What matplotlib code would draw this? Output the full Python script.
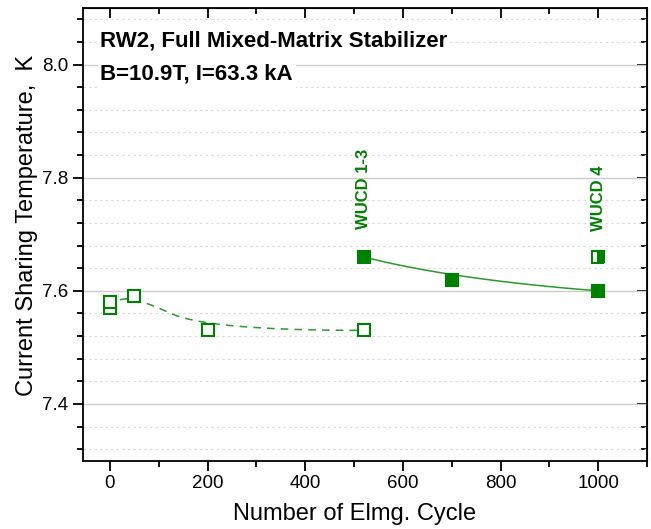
import numpy as np
import matplotlib.pyplot as plt
from matplotlib.ticker import MultipleLocator

plt.rcParams['font.family'] = ['Liberation Sans', 'DejaVu Sans']

# open symbols (dashed B-spline)
open_x = [0, 0, 50, 200, 520]
open_y = [7.57, 7.58, 7.59, 7.53, 7.53]
# filled symbols (solid B-spline)
fill_x = [520, 700, 1000]
fill_y = [7.66, 7.62, 7.60]
# half-filled symbol
half_x = [1000]
half_y = [7.66]

green = '#008000'
line_green = '#2a9a2a'


def bspline2(xs, ys, n=60):
    # clamped quadratic B-spline, data points used as control points
    pts = np.column_stack([xs, ys]).astype(float)
    if len(pts) == 3:
        segs = [(pts[0], pts[1], pts[2])]
    else:
        mids = (pts[1:-2] + pts[2:-1]) / 2
        starts = [pts[0]] + list(mids)
        ends = list(mids) + [pts[-1]]
        segs = [(starts[i], pts[i + 1], ends[i]) for i in range(len(mids) + 1)]
    t = np.linspace(0, 1, n)[:, None]
    out = [(1 - t) ** 2 * a + 2 * t * (1 - t) * b + t ** 2 * c for a, b, c in segs]
    out = np.vstack(out)
    return out[:, 0], out[:, 1]


fig = plt.figure(figsize=(6.51, 5.29), dpi=100)
ax = fig.add_axes([83 / 651, 1 - 460.5 / 529, 564 / 651, 452.5 / 529])

cx, cy = bspline2(open_x, open_y)
ax.plot(cx, cy, color=line_green, lw=1.1, dashes=(5, 4), zorder=2)
cx, cy = bspline2(fill_x, fill_y)
ax.plot(cx, cy, '-', color=line_green, lw=1.1, zorder=2)

ax.plot(open_x, open_y, 's', ms=8.6, mfc='white', mec=green, mew=1.5,
        ls='none', zorder=3)
ax.plot(fill_x, fill_y, 's', ms=8.6, mfc=green, mec=green, mew=1.5,
        ls='none', zorder=3)
ax.plot(half_x, half_y, 's', ms=8.6, fillstyle='right', mfc=green,
        mfcalt='white', mec=green, mew=1.5, ls='none', zorder=3)

ax.text(520, 7.709, 'WUCD 1-3', rotation=90, color=green, fontsize=12,
        fontweight='bold', ha='center', va='bottom')
ax.text(1000, 7.706, 'WUCD 4', rotation=90, color=green, fontsize=12,
        fontweight='bold', ha='center', va='bottom')

box = dict(facecolor='white', edgecolor='none', pad=2)
ax.text(0.031, 0.9145, 'RW2, Full Mixed-Matrix Stabilizer', transform=ax.transAxes,
        fontsize=16, fontweight='bold', ha='left', va='baseline', bbox=box, zorder=4)
ax.text(0.031, 0.8409, 'B=10.9T, I=63.3 kA', transform=ax.transAxes,
        fontsize=16, fontweight='bold', ha='left', va='baseline', bbox=box, zorder=4)

ax.set_xlim(-55, 1100)
ax.set_ylim(7.3, 8.1)
ax.xaxis.set_major_locator(MultipleLocator(200))
ax.xaxis.set_minor_locator(MultipleLocator(100))
ax.yaxis.set_major_locator(MultipleLocator(0.2))
ax.yaxis.set_minor_locator(MultipleLocator(0.04))
ax.yaxis.set_major_formatter(plt.FormatStrFormatter('%.1f'))

ax.grid(True, axis='y', which='major', color='#cccccc', lw=1)
ax.grid(True, axis='y', which='minor', color='#d8d8d8', lw=0.8, ls=(0, (2, 3)))
ax.set_axisbelow(True)

for s in ax.spines.values():
    s.set_linewidth(1.3)
ax.tick_params(which='both', direction='out', width=1.3, labelsize=13.5,
               top=False, right=False)
ax.tick_params(which='major', length=7)
ax.tick_params(which='minor', length=4)

ax.set_xlabel('Number of Elmg. Cycle', fontsize=17)
ax.set_ylabel('Current Sharing Temperature,  K', fontsize=17)
ax.xaxis.set_label_coords(0.481, -0.094)
ax.yaxis.set_label_coords(-0.08, 0.519)

# inward mirror ticks on top and right
ax2 = ax.secondary_xaxis('top')
ax2.xaxis.set_major_locator(MultipleLocator(200))
ax2.xaxis.set_minor_locator(MultipleLocator(100))
ax2.tick_params(which='both', direction='in', width=1.3, labeltop=False)
ax2.tick_params(which='major', length=7)
ax2.tick_params(which='minor', length=4)
ay2 = ax.secondary_yaxis('right')
ay2.yaxis.set_major_locator(MultipleLocator(0.2))
ay2.yaxis.set_minor_locator(MultipleLocator(0.04))
ay2.tick_params(which='both', direction='in', width=1.3, labelright=False)
ay2.tick_params(which='major', length=7)
ay2.tick_params(which='minor', length=4)

fig.savefig('out.png', dpi=100)
